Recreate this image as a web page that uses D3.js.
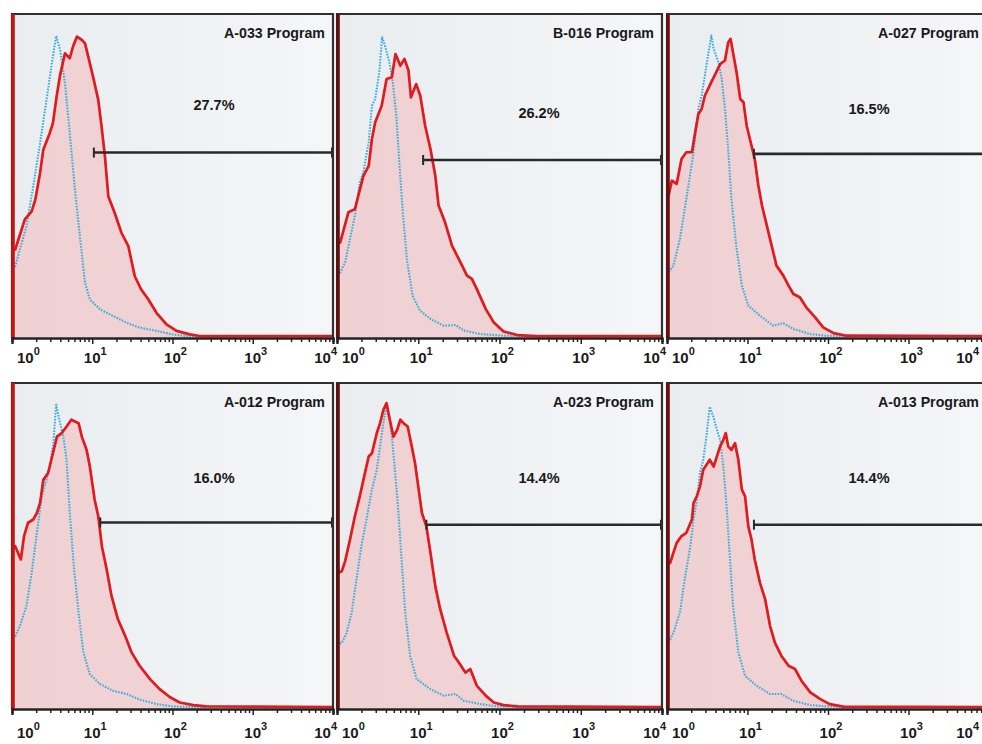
<!DOCTYPE html>
<html>
<head>
<meta charset="utf-8">
<script src="https://cdn.jsdelivr.net/npm/d3@7/dist/d3.min.js"></script>
<style>
  html, body { margin: 0; padding: 0; background: #ffffff; }
  svg { display: block; }
</style>
</head>
<body>
<svg id="chart" width="982" height="744"></svg>
<script>
// ---------- DATA (x = log10 fluorescence intensity, y = % of max count) ----------
const titles = ["A-033 Program", "B-016 Program", "A-027 Program", "A-012 Program", "A-023 Program", "A-013 Program"];
const percentLabels = ["27.7%", "26.2%", "16.5%", "16.0%", "14.4%", "14.4%"];
const gateStartLog = [1.02, 1.06, 1.08, 1.10, 1.10, 1.08];
const gateLevel = [57.1, 54.8, 56.7, 57.1, 56.4, 56.4];
const tickValues = [1, 10, 100, 1000, 10000];
const tickExponents = ["0", "1", "2", "3", "4"];

const redA033 = [[0,27],[0.04,27.1],[0.16,36.4],[0.245,38.9],[0.29,42.5],[0.35,50.8],[0.39,58.0],[0.47,63.1],[0.51,66.2],[0.556,74.5],[0.6,81.2],[0.66,87.8],[0.72,86.3],[0.76,89.9],[0.81,93.0],[0.87,92.0],[0.91,90.9],[0.95,86.8],[1.01,80.6],[1.075,73.4],[1.116,65.2],[1.158,55.9],[1.2,43.6],[1.28,38.4],[1.365,32.2],[1.45,28.1],[1.53,18.8],[1.61,14.7],[1.7,11.6],[1.8,7.5],[1.925,3.9],[2.05,1.9],[2.216,0.8],[2.34,0.3],[4,0.3]];
const blueA033 = [[0,21.5],[0.04,21.9],[0.18,34.3],[0.265,46.7],[0.35,60.0],[0.43,73.4],[0.49,83.7],[0.55,93.2],[0.6,88.9],[0.66,78.6],[0.72,63.1],[0.78,46.7],[0.85,30.2],[0.91,16.8],[0.97,11.6],[1.1,8.5],[1.26,6.5],[1.43,4.4],[1.59,2.9],[1.8,1.9],[2.0,0.8],[2.17,0.3],[2.4,0.2]];

const redB016 = [[0,29],[0.04,29.3],[0.14,38.6],[0.22,39.6],[0.325,49.9],[0.39,53.0],[0.43,61.3],[0.47,66.5],[0.55,71.6],[0.61,79.9],[0.675,80.4],[0.72,87.6],[0.78,84.0],[0.83,86.1],[0.88,82.5],[0.91,74.2],[0.975,78.3],[1.025,74.7],[1.085,65.4],[1.15,58.2],[1.21,49.9],[1.25,40.7],[1.33,35.5],[1.415,28.3],[1.52,23.1],[1.6,19.0],[1.66,18.0],[1.72,14.9],[1.83,8.7],[1.93,4.5],[2.05,1.7],[2.22,0.6],[2.46,0.3],[4,0.3]];
const blueB016 = [[0,19.5],[0.04,20.0],[0.1,23.1],[0.16,30.3],[0.22,37.6],[0.28,47.9],[0.325,51.0],[0.39,60.3],[0.43,71.6],[0.47,73.7],[0.52,81.9],[0.555,92.8],[0.59,90.2],[0.646,85.0],[0.687,78.8],[0.73,68.5],[0.77,53.0],[0.81,38.6],[0.86,24.1],[0.93,12.8],[1.02,8.2],[1.15,5.6],[1.31,3.5],[1.46,3.7],[1.56,2.0],[1.77,0.9],[2.05,0.4],[2.4,0.2]];

const redA027 = [[0,43],[0.02,43.8],[0.06,48.4],[0.12,47.4],[0.18,55.1],[0.24,57.2],[0.31,57.2],[0.35,63.4],[0.39,69.0],[0.43,70.6],[0.47,74.7],[0.53,77.8],[0.6,81.4],[0.66,84.5],[0.72,85.6],[0.76,91.2],[0.79,92.3],[0.82,88.1],[0.865,81.9],[0.91,73.7],[0.95,72.7],[0.99,65.4],[1.05,59.2],[1.09,55.1],[1.135,46.9],[1.18,40.7],[1.24,34.5],[1.3,28.3],[1.36,22.1],[1.445,19.0],[1.51,15.9],[1.57,13.3],[1.65,12.3],[1.73,9.2],[1.84,6.1],[1.94,3.0],[2.07,1.2],[2.23,0.4],[4,0.3]];
const blueA027 = [[0,19.5],[0.02,20.0],[0.08,22.1],[0.16,30.3],[0.24,42.7],[0.33,57.2],[0.39,70.6],[0.43,74.7],[0.47,80.9],[0.51,87.1],[0.55,93.3],[0.58,89.2],[0.64,85.0],[0.68,79.9],[0.72,70.6],[0.76,58.2],[0.8,42.7],[0.86,28.3],[0.93,15.9],[1.01,9.7],[1.155,6.6],[1.32,3.5],[1.445,4.3],[1.57,2.5],[1.78,0.9],[1.98,0.4],[2.4,0.2]];

const redA012 = [[0,49],[0.04,49.8],[0.11,45.7],[0.15,52.9],[0.2,57.0],[0.265,58.0],[0.31,60.0],[0.35,63.1],[0.39,70.2],[0.45,72.3],[0.51,78.4],[0.56,83.5],[0.62,84.6],[0.68,86.6],[0.74,88.7],[0.83,87.6],[0.87,83.5],[0.93,79.4],[0.97,74.3],[1.03,64.1],[1.075,59.0],[1.12,49.8],[1.18,42.6],[1.24,34.5],[1.32,27.3],[1.41,22.2],[1.49,17.1],[1.59,13.0],[1.72,8.9],[1.84,5.8],[1.97,3.3],[2.09,1.7],[2.26,0.9],[2.42,0.5],[4,0.3]];
const blueA012 = [[0,22],[0.04,22.2],[0.1,25.3],[0.18,31.4],[0.245,41.6],[0.31,53.9],[0.37,65.1],[0.43,70.2],[0.48,75.4],[0.515,81.5],[0.55,93.3],[0.6,87.6],[0.64,83.5],[0.68,76.4],[0.72,60.0],[0.77,43.7],[0.83,29.3],[0.89,17.1],[0.97,10.4],[1.095,7.4],[1.26,5.3],[1.43,4.3],[1.59,2.6],[1.8,1.2],[2.0,0.5],[2.4,0.2]];

const redA023 = [[0,41.5],[0.06,42.1],[0.1,45.2],[0.16,51.8],[0.22,59.0],[0.28,65.1],[0.325,70.2],[0.39,77.4],[0.43,78.4],[0.49,84.6],[0.53,87.6],[0.57,91.7],[0.61,93.8],[0.65,88.7],[0.695,83.5],[0.74,85.6],[0.78,88.7],[0.82,87.6],[0.87,86.6],[0.92,80.5],[0.96,75.4],[1.0,68.2],[1.045,60.0],[1.1,55.9],[1.15,47.8],[1.21,37.5],[1.27,30.4],[1.35,23.2],[1.44,16.1],[1.5,14.0],[1.58,10.9],[1.64,12.0],[1.72,6.9],[1.83,3.8],[1.93,1.7],[2.05,0.9],[2.22,0.5],[4,0.3]];
const blueA023 = [[0,19.5],[0.06,20.1],[0.12,23.2],[0.18,29.3],[0.24,39.6],[0.3,49.8],[0.37,59.0],[0.43,67.2],[0.49,73.3],[0.53,80.5],[0.57,87.6],[0.605,92.7],[0.646,88.7],[0.68,82.5],[0.716,72.3],[0.757,60.0],[0.8,43.7],[0.84,29.3],[0.9,16.1],[0.98,8.9],[1.15,5.8],[1.31,3.8],[1.46,4.3],[1.56,2.2],[1.77,1.2],[1.97,0.5],[2.4,0.2]];

const redA013 = [[0,44],[0.04,44.7],[0.08,47.8],[0.12,50.8],[0.18,52.9],[0.24,53.9],[0.31,58.0],[0.33,63.1],[0.37,65.1],[0.41,68.2],[0.45,73.3],[0.49,74.8],[0.53,76.4],[0.58,74.3],[0.62,77.4],[0.66,80.5],[0.7,82.5],[0.73,84.6],[0.76,80.5],[0.8,79.4],[0.845,81.5],[0.886,76.4],[0.93,67.2],[0.97,65.1],[1.01,55.9],[1.05,51.8],[1.09,45.7],[1.155,38.5],[1.22,33.4],[1.28,25.3],[1.34,20.1],[1.42,16.1],[1.51,13.0],[1.59,12.0],[1.67,8.4],[1.78,4.8],[1.9,2.8],[2.02,1.2],[2.19,0.4],[4,0.3]];
const blueA013 = [[0,19.5],[0.02,20.1],[0.08,23.2],[0.16,29.3],[0.22,39.6],[0.29,49.8],[0.33,58.0],[0.37,64.1],[0.41,72.3],[0.45,76.4],[0.49,83.5],[0.53,92.7],[0.575,89.7],[0.62,85.6],[0.66,82.5],[0.7,74.3],[0.74,62.1],[0.78,46.7],[0.82,31.4],[0.886,17.1],[0.97,9.9],[1.11,6.9],[1.28,4.3],[1.42,4.3],[1.57,2.2],[1.78,0.9],[1.98,0.5],[2.4,0.2]];

const redSeries = [redA033, redB016, redA027, redA012, redA023, redA013];
const blueSeries = [blueA033, blueB016, blueA027, blueA012, blueA023, blueA013];

// ---------- LAYOUT ----------
const W = 982;
const colLeft = [12, 337, 667];
const colRight = [333, 662, 989];
const rowTop = [14, 383];
const rowBottom = [338, 709];
const labelOffset = [25, 29];
const pctOffset = [96, 104, 100, 100, 100, 100];
const leftEdgeColor = ["#c41414", "#5e0f0f", "#6a1010"];
const FONT = "'Liberation Sans', Arial, Helvetica, sans-serif";

const svg = d3.select("#chart");
const defs = svg.append("defs");
const grad = defs.append("linearGradient").attr("id", "bg").attr("x1", "0%").attr("x2", "100%").attr("y1", "0%").attr("y2", "0%");
grad.append("stop").attr("offset", "0%").attr("stop-color", "#eaedf0");
grad.append("stop").attr("offset", "100%").attr("stop-color", "#f4f6f7");

titles.forEach((title, i) => {
  const c = i % 3, r = Math.floor(i / 3);
  const L = colLeft[c], R = colRight[c], T = rowTop[r], B = rowBottom[r];
  const x = d3.scaleLog().domain([1, 10000]).range([L, R]);
  const y = d3.scaleLinear().domain([0, 100]).range([B - 1, T]);
  const g = svg.append("g");

  const clipId = "clip" + i;
  defs.append("clipPath").attr("id", clipId).append("rect")
    .attr("x", L).attr("y", T).attr("width", R - L).attr("height", B - T);

  // background
  g.append("rect").attr("x", L).attr("y", T).attr("width", R - L).attr("height", B - T)
    .attr("fill", "url(#bg)");

  const plot = g.append("g").attr("clip-path", `url(#${clipId})`);
  const px = d => x(Math.pow(10, d[0]));

  // red filled area
  plot.append("path").datum(redSeries[i])
    .attr("d", d3.area().x(px).y0(y(0)).y1(d => y(d[1])))
    .attr("fill", "#f1c6c8").attr("fill-opacity", 0.72);

  // blue dotted control
  plot.append("path").datum(blueSeries[i])
    .attr("d", d3.line().x(px).y(d => y(d[1])))
    .attr("fill", "none").attr("stroke", "#3aaed8").attr("stroke-width", 2.1)
    .attr("stroke-dasharray", "1.6,1.3").attr("stroke-linejoin", "round");

  // red line
  plot.append("path").datum(redSeries[i])
    .attr("d", d3.line().x(px).y(d => y(d[1])))
    .attr("fill", "none").attr("stroke", "#e01a1e").attr("stroke-width", 2.7)
    .attr("stroke-linejoin", "round");

  // gate marker
  const gx1 = x(Math.pow(10, gateStartLog[i])), gx2 = x(10000) - 1, gy = y(gateLevel[i]);
  g.append("line").attr("x1", gx1).attr("x2", gx2).attr("y1", gy).attr("y2", gy)
    .attr("stroke", "#2a2a2a").attr("stroke-width", 2.6);
  [gx1, gx2].forEach(xx => g.append("line").attr("x1", xx).attr("x2", xx)
    .attr("y1", gy - 5).attr("y2", gy + 5).attr("stroke", "#2a2a2a").attr("stroke-width", 2));

  // frame
  g.append("path").attr("d", `M${L},${B}V${T}H${R}V${B}`)
    .attr("fill", "none").attr("stroke", "#303030").attr("stroke-width", 2.2);
  g.append("line").attr("x1", L + 1).attr("x2", L + 1).attr("y1", T).attr("y2", B)
    .attr("stroke", leftEdgeColor[c]).attr("stroke-width", 3.6);

  // title and percent
  g.append("text").attr("x", Math.min(R - 8, W - 3)).attr("y", T + 24).attr("text-anchor", "end")
    .attr("font-family", FONT).attr("font-weight", "bold").attr("font-size", 14.2)
    .attr("fill", "#1a1a1a").text(title);
  g.append("text").attr("x", L + 202).attr("y", T + pctOffset[i]).attr("text-anchor", "middle")
    .attr("font-family", FONT).attr("font-weight", "bold").attr("font-size", 14.5)
    .attr("fill", "#1a1a1a").text(percentLabels[i]);

  // axes
  const minors = [];
  for (let k = 0; k < 4; k++) for (let m = 2; m <= 9; m++) minors.push(m * Math.pow(10, k));
  const axG = g.append("g").attr("transform", `translate(0,${B})`);
  axG.call(d3.axisBottom(x).tickValues(minors).tickSize(4).tickFormat(""));
  axG.call(g2 => g2.append("g").call(d3.axisBottom(x).tickValues(tickValues).tickSize(6).tickFormat("")));
  axG.selectAll("path.domain").attr("stroke", "#222").attr("stroke-width", 2.2);
  axG.selectAll(".tick line").attr("stroke", "#222").attr("stroke-width", 1.5);

  // tick labels 10^n
  tickValues.forEach((tv, k) => {
    let tx = x(tv) + 3, anchor = "middle";
    if (k === 0) { tx = L + 5; anchor = "start"; }
    if (k === tickValues.length - 1) { tx = Math.min(R + 4, W - 3); anchor = "end"; }
    const t = g.append("text").attr("x", tx).attr("y", B + labelOffset[r])
      .attr("text-anchor", anchor).attr("font-family", FONT).attr("font-weight", "bold")
      .attr("font-size", 15).attr("fill", "#1a1a1a");
    t.append("tspan").text("10");
    t.append("tspan").attr("font-size", 11).attr("dy", -8).text(tickExponents[k]);
  });
});
</script>
</body>
</html>
